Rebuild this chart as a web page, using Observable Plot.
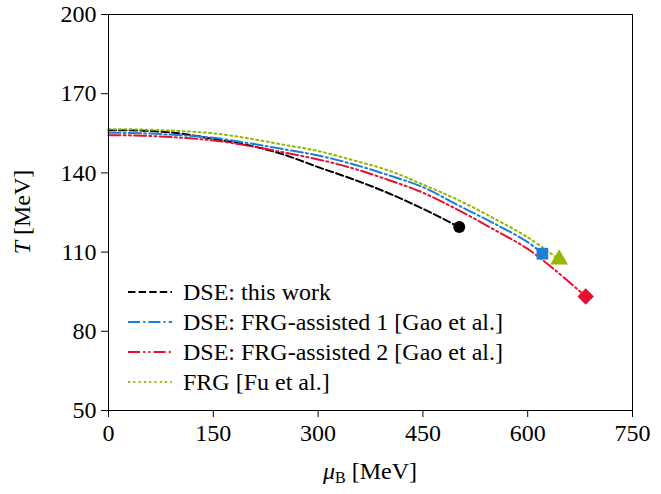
<!DOCTYPE html>
<html>
<head>
<meta charset="utf-8">
<script src="https://cdn.jsdelivr.net/npm/d3@7"></script>
<script src="https://cdn.jsdelivr.net/npm/@observablehq/plot@0.6"></script>
<style>
  html, body { margin: 0; padding: 0; background: #fff; }
  #chart { position: relative; width: 661px; height: 494px; }
</style>
</head>
<body>
<div id="chart"></div>
<script>
// ---- data ----
const xTicks = [0, 150, 300, 450, 600, 750];
const yTicks = [50, 80, 110, 140, 170, 200];

const dseMu = [0, 50, 100, 150, 200, 250, 300, 350, 400, 450, 502];
const dseT  = [156.2, 156.0, 155.0, 152.9, 150.5, 147.0, 142.2, 137.6, 132.4, 126.4, 119.5];

const frg1Mu = [0, 50, 100, 150, 200, 250, 300, 350, 400, 450, 500, 550, 600, 621];
const frg1T  = [155.2, 155.0, 154.3, 153.3, 151.3, 149.0, 146.6, 143.3, 139.2, 134.6, 127.8, 121.1, 113.8, 109.4];

const frg2Mu = [0, 50, 100, 150, 200, 250, 300, 350, 400, 450, 500, 550, 600, 640, 683];
const frg2T  = [154.3, 154.1, 153.4, 152.3, 150.3, 147.8, 145.1, 141.7, 137.4, 132.5, 126.0, 118.8, 111.2, 103.0, 93.2];

const fuMu = [0, 50, 100, 150, 200, 250, 300, 350, 400, 450, 500, 550, 600, 645];
const fuT  = [156.6, 156.4, 155.9, 155.0, 153.1, 150.7, 148.3, 144.8, 141.0, 135.6, 129.8, 123.0, 115.6, 107.2];

const seriesNames = ["DSE: this work", "DSE: FRG-assisted 1 [Gao et al.]", "DSE: FRG-assisted 2 [Gao et al.]", "FRG [Fu et al.]"];
const colors = ["#000000", "#1a7fd6", "#e8102e", "#92b800"];
const dashes = ["7.4,3.2", "12,3.2,2,3.2", "12,3.2,2,3.2,2,3.2", "2,3.3"];
const symbols = ["circle", "square", "diamond2", "triangle"];
const symbolR = [6, 6.6, 7.4, 6.6];

// ---- build tables ----
const allMu = [dseMu, frg1Mu, frg2Mu, fuMu];
const allT = [dseT, frg1T, frg2T, fuT];
const lines = allMu.map((mus, i) => mus.map((m, j) => ({mu: m, T: allT[i][j]})));
const ends = lines.map((l) => l[l.length - 1]);

const W = 661, H = 494;
const font = "Liberation Serif";
const fs = 24;

const marks = [];
lines.forEach((data, i) => {
  marks.push(Plot.line(data, {
    x: "mu", y: "T", stroke: colors[i], strokeWidth: 2,
    strokeDasharray: dashes[i], curve: "catmull-rom"
  }));
});
ends.forEach((e, i) => {
  marks.push(Plot.dot([e], {
    x: "mu", y: "T", symbol: symbols[i], r: symbolR[i],
    fill: colors[i], stroke: "none"
  }));
});
marks.push(Plot.frame({stroke: "#000", strokeWidth: 1}));
marks.push(Plot.axisX({ticks: xTicks, tickSize: 7, tickPadding: 6, label: null, fontSize: fs, tickFormat: d => String(d)}));
marks.push(Plot.axisY({ticks: yTicks, tickSize: 7, tickPadding: 5, label: null, fontSize: fs, tickFormat: d => String(d)}));

const svg = Plot.plot({
  width: W, height: H,
  marginLeft: 108, marginRight: 29, marginTop: 14, marginBottom: 84,
  style: {background: "#fff", color: "#000", overflow: "visible"},
  x: {domain: [0, 750]},
  y: {domain: [50, 200]},
  marks
});
document.getElementById("chart").appendChild(svg);

// ---- axis labels and legend ----
const s = d3.select(svg);
const xl = s.append("text").attr("x", 370).attr("y", 479).attr("text-anchor", "middle")
  .attr("font-size", fs).attr("fill", "#000");
xl.append("tspan").attr("font-style", "italic").text("μ");
xl.append("tspan").attr("font-size", 16).attr("dy", 4).text("B");
xl.append("tspan").attr("dy", -4).text(" [MeV]");

const yl = s.append("text").attr("transform", "translate(30,212) rotate(-90)").attr("text-anchor", "middle")
  .attr("font-size", fs).attr("fill", "#000");
yl.append("tspan").attr("font-style", "italic").text("T");
yl.append("tspan").text(" [MeV]");

const lg = s.append("g").attr("text-anchor", "start");
seriesNames.forEach((name, i) => {
  const y = 292 + i * 30;
  lg.append("line").attr("x1", 128).attr("x2", 172).attr("y1", y).attr("y2", y)
    .attr("stroke", colors[i]).attr("stroke-width", 2).attr("stroke-dasharray", dashes[i]);
  lg.append("text").attr("x", 183).attr("y", y).attr("dy", "0.35em").attr("text-anchor", "start")
    .attr("font-size", fs).attr("fill", "#000").text(name);
});

// force serif font everywhere
s.attr("font-family", font).style("font-family", font);
s.selectAll("g").attr("font-family", font);
s.selectAll("text").attr("font-family", font).style("font-family", font);
</script>
</body>
</html>
